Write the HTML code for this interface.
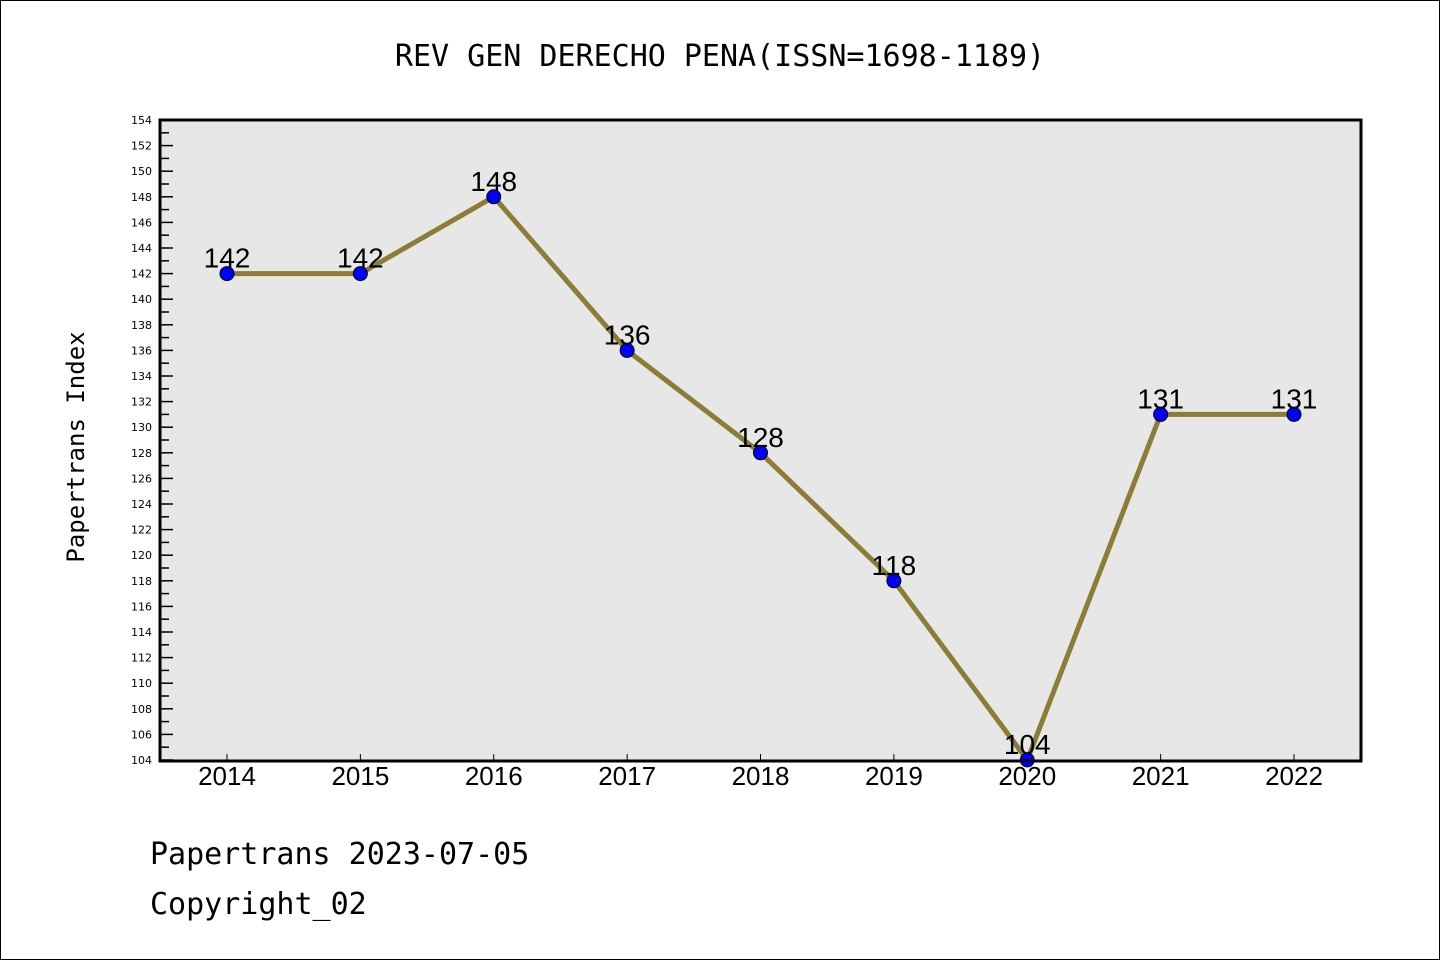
<!DOCTYPE html>
<html><head><meta charset="utf-8"><style>
body{margin:0;background:#fff;}
svg{display:block;}
</style></head><body>
<svg id="c" width="1440" height="960" xmlns="http://www.w3.org/2000/svg">
<rect x="0.5" y="0.5" width="1439" height="959" fill="#fff" stroke="#000" stroke-width="1"/>
<text x="720" y="66" text-anchor="middle" font-family="'WenQuanYi Zen Hei Mono','DejaVu Sans Mono','Liberation Mono',monospace" font-size="30">REV GEN DERECHO PENA(ISSN=1698-1189)</text>
<rect x="160" y="120" width="1201" height="641" fill="#e7e7e7"/>
<g id="yt"></g><g id="xt"></g><g id="series"></g>
<rect x="160" y="120" width="1201" height="641" fill="none" stroke="#000" stroke-width="3"/>
<text transform="translate(84,447) rotate(-90)" text-anchor="middle" font-family="'WenQuanYi Zen Hei Mono','DejaVu Sans Mono',monospace" font-size="24">Papertrans Index</text>
<text x="150" y="864" font-family="'WenQuanYi Zen Hei Mono','DejaVu Sans Mono',monospace" font-size="30">Papertrans 2023-07-05</text>
<text x="150" y="914" font-family="'WenQuanYi Zen Hei Mono','DejaVu Sans Mono',monospace" font-size="30">Copyright_02</text>
</svg>
<script>
const years=[2014,2015,2016,2017,2018,2019,2020,2021,2022];
const values=[142,142,148,136,128,118,104,131,131];
const yMin=104,yMax=154;
const NS='http://www.w3.org/2000/svg';
function X(i){return 227+i*(1294-227)/(years.length-1);}
function Y(v){return 760-(v-yMin)*(760-120)/(yMax-yMin);}
function mk(tag,attrs,parent){const e=document.createElementNS(NS,tag);for(const k in attrs)e.setAttribute(k,attrs[k]);parent.appendChild(e);return e;}
const yt=document.getElementById('yt'),xt=document.getElementById('xt'),sg=document.getElementById('series');
for(let v=yMin;v<=yMax;v++){
  const y=Y(v);
  if(v%2===0){
    const t=mk('line',{x1:160,x2:173,y1:y,y2:y,stroke:'#000','stroke-width':1.5},yt);
    
    
    const l=mk('text',{x:152,y:y+4,'text-anchor':'end','font-family':"'DejaVu Sans',sans-serif",'font-size':11},yt);
    l.textContent=v;
    
    
  }else{
    const t=mk('line',{x1:160,x2:169,y1:y,y2:y,stroke:'#000','stroke-width':1.5},yt);
    
    
  }
}
years.forEach((yr,i)=>{
  const x=X(i);
  const t=mk('line',{x1:x,x2:x,y1:761,y2:754,stroke:'#000','stroke-width':1},xt);
  
  
  const l=mk('text',{x:x,y:785,'text-anchor':'middle','font-family':"'Liberation Sans',sans-serif",'font-size':26},xt);
  l.textContent=yr;
  
  
});
const line=mk('polyline',{points:values.map((v,i)=>X(i)+','+Y(v)).join(' '),fill:'none',stroke:'#8b7d36','stroke-width':5},sg);


values.forEach((v,i)=>{
  const c=mk('circle',{cx:X(i),cy:Y(v),r:7,fill:'#0000ff',stroke:'#000','stroke-width':1},sg);
  
  
  const l=mk('text',{x:X(i),y:Y(v)-6,'text-anchor':'middle','font-family':"'Liberation Sans',sans-serif",'font-size':28},sg);
  l.textContent=v;
  
  
});
</script>
</body></html>
